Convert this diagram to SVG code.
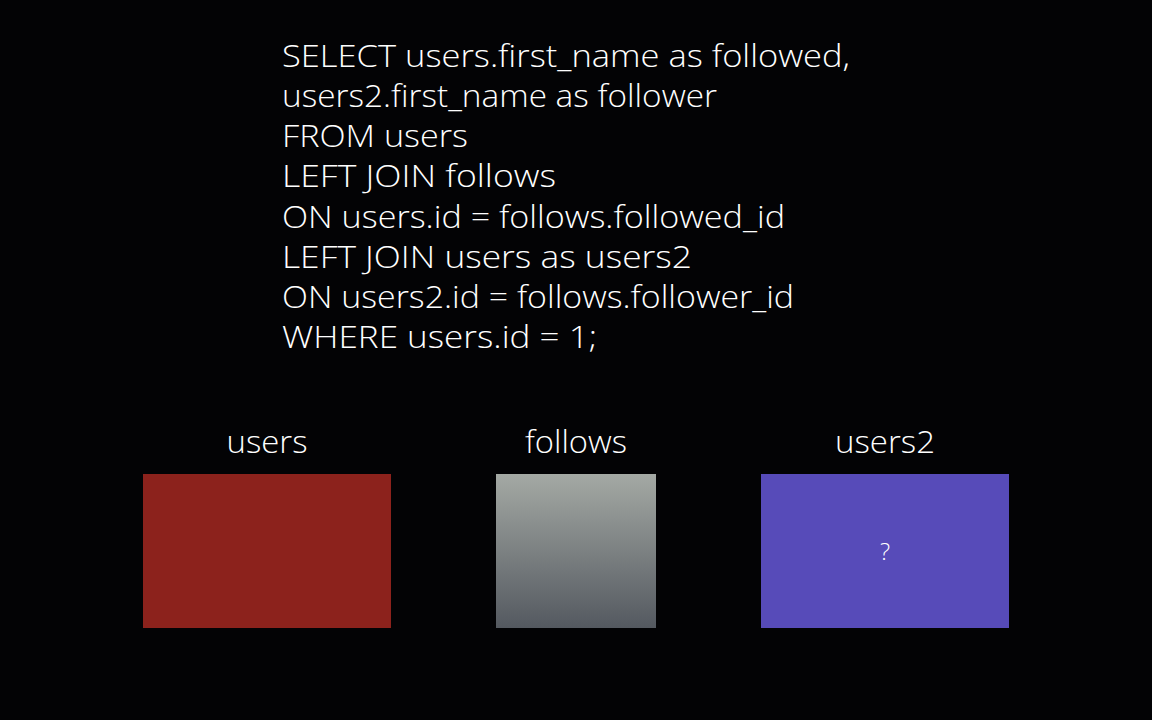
<svg xmlns="http://www.w3.org/2000/svg" width="1152" height="720" viewBox="0 0 1152 720">
<defs>
<linearGradient id="gf" x1="0" y1="0" x2="0" y2="1">
<stop offset="0" stop-color="#a4a9a4"/>
<stop offset="1" stop-color="#545960"/>
</linearGradient>
<style>
.code{font-family:"Open Sans","Liberation Sans",Arial,sans-serif;font-weight:300;font-size:31px;fill:#ffffff;}
.lbl{font-family:"Open Sans","Liberation Sans",Arial,sans-serif;font-weight:300;font-size:31px;fill:#ffffff;text-anchor:middle;}
.q{font-family:"Open Sans","Liberation Sans",Arial,sans-serif;font-weight:300;font-size:24px;fill:#ffffff;text-anchor:middle;}
</style>
</defs>
<rect x="0" y="0" width="1152" height="720" fill="#030305"/>
<g id="sql">
<text class="code" x="282" y="67" textLength="568" lengthAdjust="spacingAndGlyphs">SELECT users.first_name as followed,</text>
<text class="code" x="282" y="107" textLength="435" lengthAdjust="spacingAndGlyphs">users2.first_name as follower</text>
<text class="code" x="282" y="147" textLength="186" lengthAdjust="spacingAndGlyphs">FROM users</text>
<text class="code" x="282" y="187" textLength="274" lengthAdjust="spacingAndGlyphs">LEFT JOIN follows</text>
<text class="code" x="282" y="228" textLength="503" lengthAdjust="spacingAndGlyphs">ON users.id = follows.followed_id</text>
<text class="code" x="282" y="268" textLength="410" lengthAdjust="spacingAndGlyphs">LEFT JOIN users as users2</text>
<text class="code" x="282" y="308" textLength="512" lengthAdjust="spacingAndGlyphs">ON users2.id = follows.follower_id</text>
<text class="code" x="282" y="348" textLength="315" lengthAdjust="spacingAndGlyphs">WHERE users.id = 1;</text>
</g>
<g id="users">
<text class="lbl" x="267" y="453" textLength="81" lengthAdjust="spacingAndGlyphs">users</text>
<rect x="143" y="474" width="248" height="154" fill="#8c221c"/>
</g>
<g id="follows">
<text class="lbl" x="576" y="453" textLength="102" lengthAdjust="spacingAndGlyphs">follows</text>
<rect x="496" y="474" width="160" height="154" fill="url(#gf)"/>
</g>
<g id="users2">
<text class="lbl" x="885" y="453" textLength="100" lengthAdjust="spacingAndGlyphs">users2</text>
<rect x="761" y="474" width="248" height="154" fill="#574bb9"/>
<text class="q" x="885" y="560">?</text>
</g>
<g id="connectors"/>
</svg>
